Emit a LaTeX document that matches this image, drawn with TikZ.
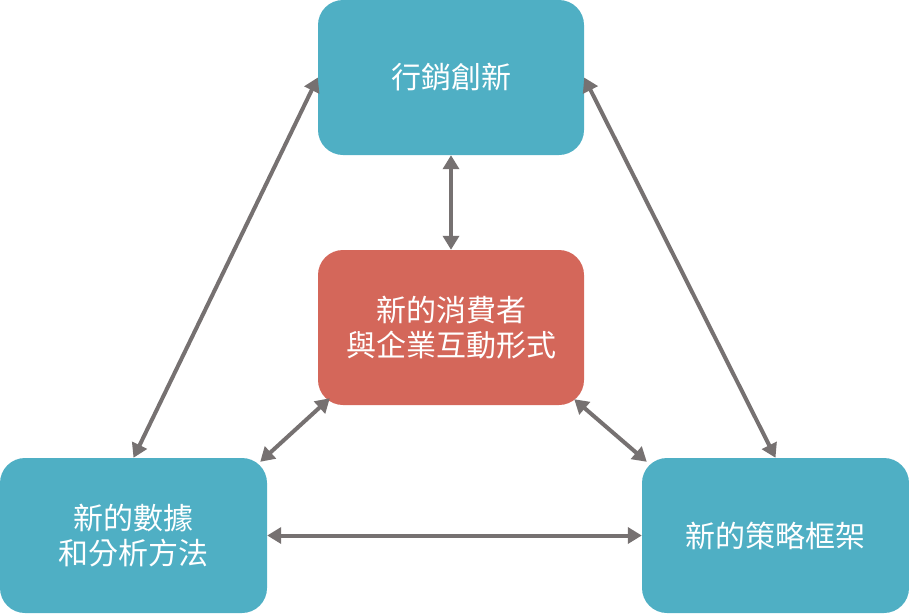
\documentclass[tikz,border=0pt]{standalone}
\usepackage{fontspec}
\setmainfont{Noto Sans CJK TC}
\usetikzlibrary{arrows.meta,calc}
\definecolor{teal}{HTML}{4FAFC4}
\definecolor{redbox}{HTML}{D4675A}
\definecolor{arrowgray}{HTML}{767171}
\tikzset{
  box/.style={rectangle, rounded corners=25pt, minimum width=266pt, minimum height=155pt,
    inner sep=0pt, text=white, align=center, font=\fontsize{30}{35}\selectfont},
  tealbox/.style={box, fill=teal},
  redbx/.style={box, fill=redbox},
  conn/.style={draw=arrowgray, line width=4pt,
    {Triangle[length=14pt,width=16pt]}-{Triangle[length=14pt,width=16pt]}}
}
\begin{document}
\begin{tikzpicture}[x=1pt,y=-1pt]
\useasboundingbox (0,0) rectangle (909,613);
\node[tealbox] (top) at (451,77.5) {行銷創新};
\node[redbx] (mid) at (451,327.5) {新的消費者\\與企業互動形式};
\node[tealbox, minimum width=267pt] (bl) at (133.5,535.5) {新的數據\\和分析方法};
\node[tealbox, minimum width=267pt] (br) at (775.5,535.5) {新的策略框架};
\draw[conn] (top.south) -- (mid.north);
\draw[conn] (top.west) -- (bl.north);
\draw[conn] (top.east) -- (br.north);
\draw[conn] ($(mid.south west)+(12,-7)$) -- ($(bl.north east)+(-7,4)$);
\draw[conn] ($(mid.south east)+(-10,-6)$) -- ($(br.north west)+(5,4)$);
\draw[conn] (bl.east) -- (br.west);
\end{tikzpicture}
\end{document}
